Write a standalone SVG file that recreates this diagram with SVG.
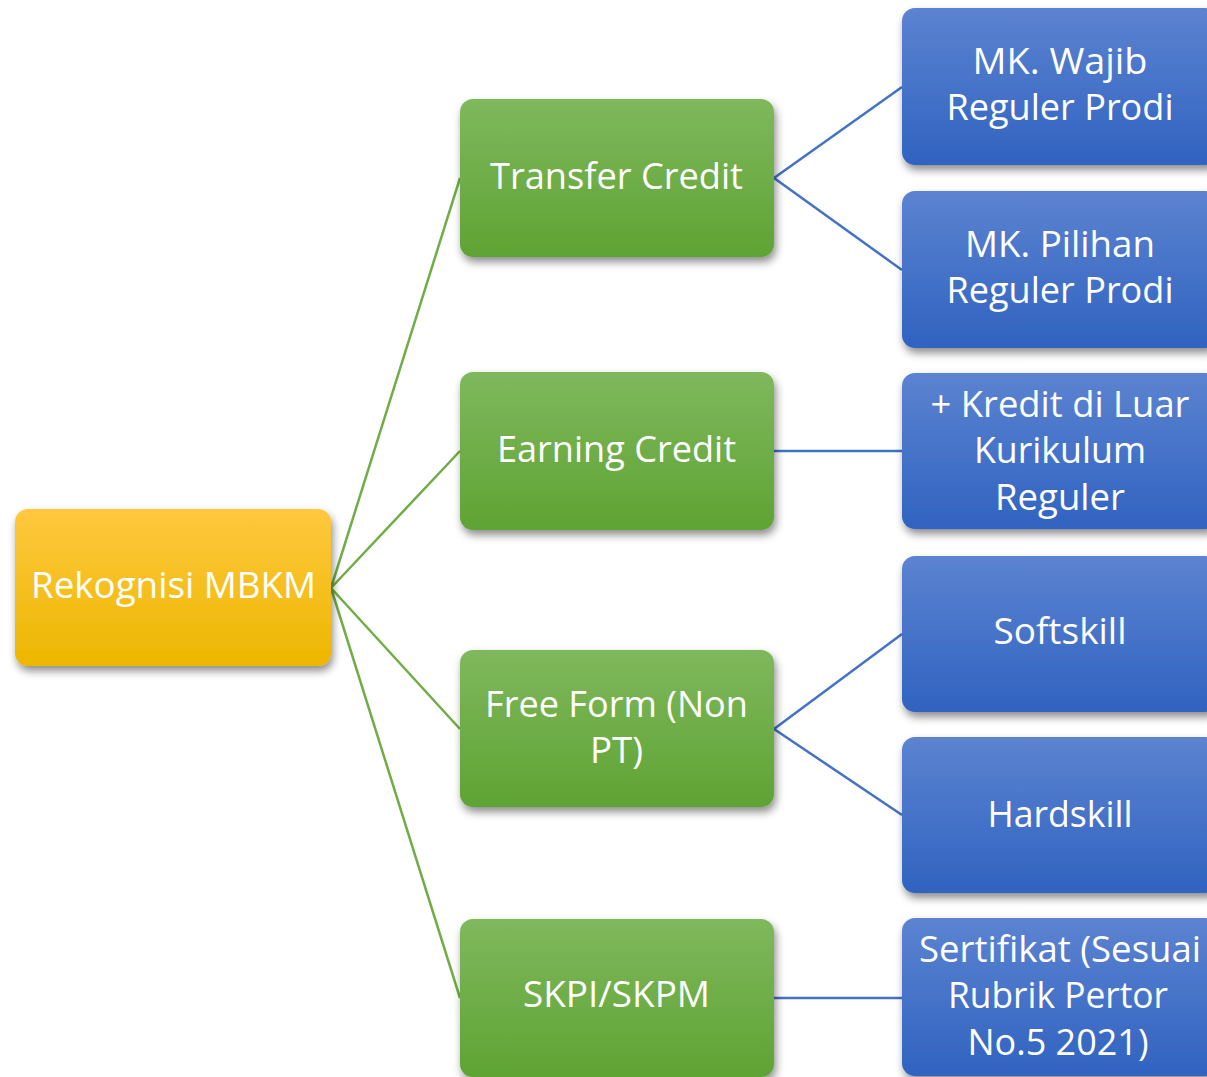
<svg xmlns="http://www.w3.org/2000/svg" width="1207" height="1077" viewBox="0 0 1207 1077">
<defs>
<linearGradient id="gy" x1="0" y1="0" x2="0" y2="1"><stop offset="0" stop-color="#FFC83F"/><stop offset="1" stop-color="#EDB700"/></linearGradient>
<linearGradient id="gg" x1="0" y1="0" x2="0" y2="1"><stop offset="0" stop-color="#7FB85D"/><stop offset="1" stop-color="#5FA333"/></linearGradient>
<linearGradient id="gb" x1="0" y1="0" x2="0" y2="1"><stop offset="0" stop-color="#5C83D1"/><stop offset="1" stop-color="#3063C0"/></linearGradient>
<filter id="sh" x="-10%" y="-10%" width="125%" height="130%"><feDropShadow dx="2" dy="5" stdDeviation="4" flood-color="#000" flood-opacity="0.45"/></filter>
</defs>
<style>
.y{fill:url(#gy);filter:url(#sh)}
.g{fill:url(#gg);filter:url(#sh)}
.b{fill:url(#gb);filter:url(#sh)}
text{font-family:"Open Sans","Noto Sans","Liberation Sans",sans-serif;font-size:36px;fill:#fff;text-anchor:middle}
.cg{stroke:#70AD47;stroke-width:2.5;fill:none}
.cb{stroke:#4472C4;stroke-width:2.5;fill:none}
</style>
<rect width="1207" height="1077" fill="#fff"/>
<g id="connectors">
<path class="cg" d="M331 588 L460 178 M331 588 L460 451 M331 588 L460 729 M331 588 L460 998"/>
<path class="cb" d="M774 178 L902 87 M774 178 L902 270 M774 451 L902 451 M774 729 L902 634 M774 729 L902 815 M774 998 L902 998"/>
</g>
<g id="root"><rect class="y" x="15" y="509" width="316" height="157" rx="13"/>
<text x="173.5" y="598" textLength="285" lengthAdjust="spacingAndGlyphs">Rekognisi MBKM</text></g>
<g id="transfer"><rect class="g" x="460" y="99" width="314" height="158" rx="13"/>
<text x="616.5" y="189" textLength="253" lengthAdjust="spacingAndGlyphs">Transfer Credit</text></g>
<g id="earning"><rect class="g" x="460" y="372" width="314" height="158" rx="13"/>
<text x="616.5" y="462" textLength="239" lengthAdjust="spacingAndGlyphs">Earning Credit</text></g>
<g id="freeform"><rect class="g" x="460" y="650" width="314" height="157" rx="13"/>
<text x="616.5" y="717" textLength="263" lengthAdjust="spacingAndGlyphs">Free Form (Non</text>
<text x="616.5" y="763" textLength="53" lengthAdjust="spacingAndGlyphs">PT)</text></g>
<g id="skpi"><rect class="g" x="460" y="919" width="314" height="158" rx="13"/>
<text x="616.5" y="1007" textLength="187" lengthAdjust="spacingAndGlyphs">SKPI/SKPM</text></g>
<g id="wajib"><rect class="b" x="902" y="8" width="316" height="157" rx="13"/>
<text x="1060" y="74" textLength="175" lengthAdjust="spacingAndGlyphs">MK. Wajib</text>
<text x="1060" y="120" textLength="227" lengthAdjust="spacingAndGlyphs">Reguler Prodi</text></g>
<g id="pilihan"><rect class="b" x="902" y="191" width="316" height="157" rx="13"/>
<text x="1060" y="257" textLength="190" lengthAdjust="spacingAndGlyphs">MK. Pilihan</text>
<text x="1060" y="303" textLength="227" lengthAdjust="spacingAndGlyphs">Reguler Prodi</text></g>
<g id="kredit"><rect class="b" x="902" y="373" width="316" height="156" rx="13"/>
<text x="1060" y="417" textLength="259" lengthAdjust="spacingAndGlyphs">+ Kredit di Luar</text>
<text x="1060" y="463" textLength="172" lengthAdjust="spacingAndGlyphs">Kurikulum</text>
<text x="1060" y="510" textLength="130" lengthAdjust="spacingAndGlyphs">Reguler</text></g>
<g id="softskill"><rect class="b" x="902" y="556" width="316" height="156" rx="13"/>
<text x="1060" y="644" textLength="133" lengthAdjust="spacingAndGlyphs">Softskill</text></g>
<g id="hardskill"><rect class="b" x="902" y="737" width="316" height="156" rx="13"/>
<text x="1060" y="827" textLength="145" lengthAdjust="spacingAndGlyphs">Hardskill</text></g>
<g id="sertifikat"><rect class="b" x="902" y="918" width="316" height="158" rx="13"/>
<text x="1060" y="962" textLength="282" lengthAdjust="spacingAndGlyphs">Sertifikat (Sesuai</text>
<text x="1058" y="1008" textLength="220" lengthAdjust="spacingAndGlyphs">Rubrik Pertor</text>
<text x="1058" y="1055" textLength="181" lengthAdjust="spacingAndGlyphs">No.5 2021)</text></g>
</svg>
